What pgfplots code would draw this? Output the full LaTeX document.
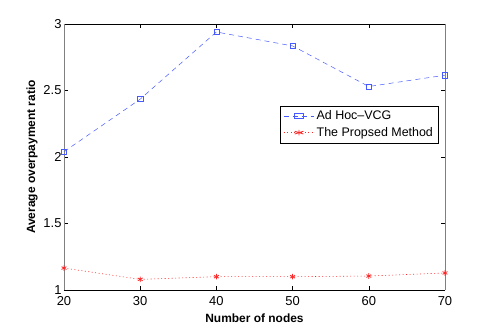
\documentclass[border=0pt]{standalone}
\usepackage{fontspec}
\setmainfont{Liberation Sans}
\usepackage{pgfplots}
\pgfplotsset{compat=1.18}
\definecolor{vcgblue}{RGB}{70,90,255}
\definecolor{pmred}{RGB}{255,40,40}
\begin{document}
\begin{tikzpicture}
\path[use as bounding box] (-64bp,-37bp) rectangle (427bp,290bp);
\begin{axis}[
    at={(0,0)}, anchor=south west,
    scale only axis,
    width=381bp, height=266bp,
    xmin=20, xmax=70, ymin=1, ymax=3,
    xtick={20,30,...,70},
    ytick={1,1.5,2,2.5,3},
    yticklabels={1,1.5,2,2.5,3},
    tick align=inside,
    major tick length=4bp,
    tick style={black, line width=0.4pt},
    axis line style={line width=0.6pt},
    separate axis lines,
    x axis line style={black},
    y axis line style={gray},
    ticklabel style={font=\fontsize{13}{15}\selectfont},
    xticklabel style={yshift=-3bp},
    yticklabel style={xshift=1bp},
    /pgf/number format/assume math mode=true,
    xlabel={\bfseries Number of nodes},
    ylabel={\bfseries Average overpayment ratio},
    label style={font=\fontsize{12}{14}\selectfont},
    xlabel style={yshift=-1bp},
    ylabel style={yshift=-1bp},
    legend style={at={(0.982,0.693)}, anchor=north east, draw=black,
        fill=white, font=\fontsize{12.5}{14}\selectfont, row sep=2bp,
        inner xsep=3bp, inner ysep=3bp},
    legend cell align=left,
    legend image post style={xscale=1.8},
]
\addplot[vcgblue, line width=0.5pt, dash pattern=on 5bp off 4bp,
    mark=square, mark size=2.6bp, mark options={solid, line width=0.5pt}]
coordinates {
    (20,2.04) (30,2.435) (40,2.94) (50,2.835) (60,2.53) (70,2.615)
};
\addlegendentry{Ad Hoc--VCG}
\addplot[pmred, line width=0.6pt, dash pattern=on 1bp off 2.5bp,
    mark=asterisk, mark size=2.8bp, mark options={solid, line width=0.8pt}]
coordinates {
    (20,1.165) (30,1.08) (40,1.10) (50,1.10) (60,1.105) (70,1.128)
};
\addlegendentry{The Propsed Method}
\end{axis}
\end{tikzpicture}
\end{document}
